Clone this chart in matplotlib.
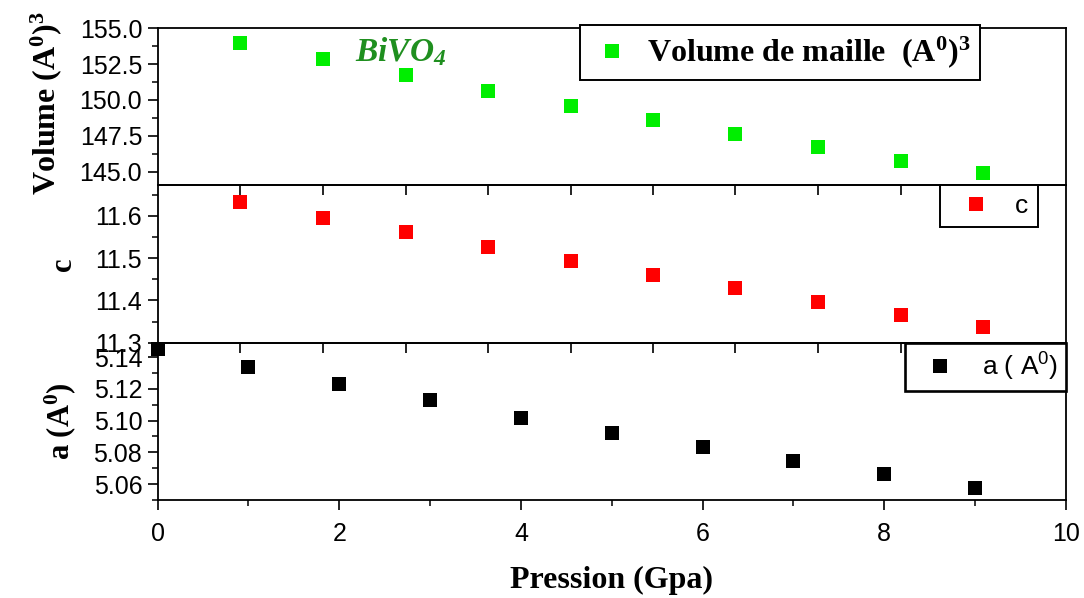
import matplotlib
matplotlib.use("Agg")
import matplotlib.pyplot as plt
from matplotlib.ticker import MultipleLocator, FixedLocator, NullFormatter

plt.rcParams['font.family'] = 'Liberation Sans'
plt.rcParams['mathtext.default'] = 'regular'
plt.rcParams['legend.framealpha'] = 1.0

# pressure (GPa)
pressure_top = [0.91, 1.82, 2.73, 3.64, 4.55, 5.45, 6.36, 7.27, 8.18, 9.09]
pressure_a = [0, 1, 2, 3, 4, 5, 6, 7, 8, 9]

volume = [154.0, 152.86, 151.72, 150.65, 149.58, 148.6, 147.6, 146.74, 145.74, 144.88]
c_param = [11.634, 11.594, 11.561, 11.527, 11.493, 11.459, 11.430, 11.396, 11.365, 11.338]
a_param = [5.145, 5.134, 5.123, 5.113, 5.1015, 5.0924, 5.0832, 5.0745, 5.0663, 5.0577]

x_ticks_bottom = [0, 2, 4, 6, 8, 10]

serif_bold = dict(family='Liberation Serif', weight='bold')

fig = plt.figure(figsize=(10.84, 5.98), dpi=100)
fig.set_facecolor('white')

left, width = 0.1453, 0.8381
ax_v = fig.add_axes([left, 0.6906, width, 0.2621])
ax_c = fig.add_axes([left, 0.4269, width, 0.2637])
ax_a = fig.add_axes([left, 0.1639, width, 0.2630])

for ax in (ax_v, ax_c, ax_a):
    ax.patch.set_visible(False)
    ax.set_xlim(0, 10)
    for s in ax.spines.values():
        s.set_linewidth(1.3)
    ax.tick_params(axis='both', which='major', direction='out', length=7, width=1.2,
                   labelsize=18, pad=4)
    ax.tick_params(axis='both', which='minor', direction='out', length=4, width=1.1)
    ax.tick_params(top=False, right=False)

# volume panel
ax_v.plot(pressure_top, volume, 's', color='#00ee00', markersize=10, markeredgewidth=0,
          label='Volume de maille  (A$^0$)$^3$')
ax_v.set_ylim(144.07, 155.0)
ax_v.yaxis.set_major_locator(MultipleLocator(2.5))
ax_v.yaxis.set_minor_locator(MultipleLocator(1.25))
ax_v.yaxis.set_major_formatter(matplotlib.ticker.FormatStrFormatter('%.1f'))
ax_v.xaxis.set_major_locator(FixedLocator(pressure_top))
ax_v.xaxis.set_minor_locator(FixedLocator([]))
ax_v.xaxis.set_major_formatter(NullFormatter())
ax_v.set_ylabel('Volume (A$^0$)$^3$', fontsize=23, **serif_bold)
ax_v.yaxis.set_label_coords(-0.103, 0.52)
ax_v.text(2.68, 153.35, 'BiVO$_4$', color='#1f8f1f', fontsize=24, ha='center', va='center',
          family='Liberation Serif', weight='bold', style='italic')
leg = ax_v.legend(loc='upper left', bbox_to_anchor=(0.465, 1.02), frameon=True, fancybox=False,
                  edgecolor='black', handletextpad=0.4, borderpad=0.3, handlelength=1.4,
                  borderaxespad=0.0,
                  prop=dict(family='Liberation Serif', weight='bold', size=23))
leg.get_frame().set_linewidth(1.4)

# c panel
ax_c.plot(pressure_top, c_param, 's', color='#ff0000', markersize=10, markeredgewidth=0, label='c')
ax_c.set_ylim(11.3, 11.673)
ax_c.yaxis.set_major_locator(MultipleLocator(0.1))
ax_c.yaxis.set_minor_locator(MultipleLocator(0.05))
ax_c.xaxis.set_major_locator(FixedLocator(pressure_top))
ax_c.xaxis.set_minor_locator(FixedLocator([]))
ax_c.xaxis.set_major_formatter(NullFormatter())
ax_c.set_ylabel('c', fontsize=22, **serif_bold)
ax_c.yaxis.set_label_coords(-0.088, 0.5)
leg = ax_c.legend(loc='upper right', bbox_to_anchor=(0.969, 1.0), frameon=True, fancybox=False,
                  edgecolor='black', handletextpad=0.5, borderpad=0.35, handlelength=2.0,
                  borderaxespad=0.0, prop=dict(size=19))
leg.get_frame().set_linewidth(1.4)

# a panel
ax_a.plot(pressure_a, a_param, 's', color='black', markersize=10, markeredgewidth=0,
          label='a ( A$^0$)', clip_on=False)
ax_a.set_ylim(5.05, 5.149)
ax_a.yaxis.set_major_locator(MultipleLocator(0.02))
ax_a.yaxis.set_minor_locator(MultipleLocator(0.01))
ax_a.xaxis.set_major_locator(FixedLocator(x_ticks_bottom))
ax_a.xaxis.set_minor_locator(MultipleLocator(1))
ax_a.set_xticklabels([str(t) for t in x_ticks_bottom])
ax_a.tick_params(axis='x', which='major', pad=9)
ax_a.set_ylabel('a (A$^0$)', fontsize=22, **serif_bold)
ax_a.yaxis.set_label_coords(-0.087, 0.5)
ax_a.set_xlabel('Pression (Gpa)', fontsize=23, labelpad=14, **serif_bold)
leg = ax_a.legend(loc='upper right', bbox_to_anchor=(1.0, 1.0), frameon=True, fancybox=False,
                  edgecolor='black', handletextpad=0.6, borderpad=0.3, handlelength=2.0,
                  borderaxespad=0.0, prop=dict(size=19))
leg.get_frame().set_linewidth(1.9)

fig.savefig('out.png', dpi=100, facecolor='white')
